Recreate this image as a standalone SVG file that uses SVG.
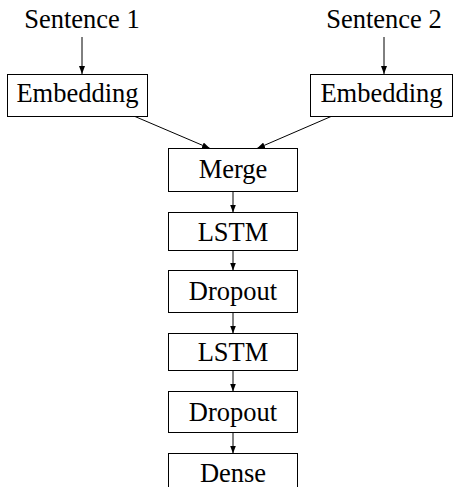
<svg xmlns="http://www.w3.org/2000/svg" width="455" height="487" viewBox="0 0 455 487">
  <style>
    .box { fill: #ffffff; stroke: #000000; stroke-width: 1; }
    .lbl { font-size: 26.5px; fill: #000000; text-anchor: middle; }
    .edge { stroke: #000000; stroke-width: 1; fill: none; marker-end: url(#tip); }
  </style>
  <defs>
    <marker id="tip" viewBox="0 0 8 6" refX="8" refY="3" markerWidth="8" markerHeight="6" markerUnits="userSpaceOnUse" orient="auto">
      <path d="M0,0 L8,3 L0,6 Z" fill="#000000"/>
    </marker>
  </defs>

  <rect width="455" height="487" fill="#ffffff"/>

  <g font-family="'Liberation Serif', 'Times New Roman', 'DejaVu Serif', serif">
    <!-- inputs -->
    <g id="sentence1"><text class="lbl" x="82" y="28">Sentence 1</text></g>
    <g id="sentence2"><text class="lbl" x="384" y="28">Sentence 2</text></g>

    <!-- embedding layers -->
    <g id="embedding1">
      <rect class="box" x="7.5" y="74.5" width="140" height="42"/>
      <text class="lbl" x="77.5" y="102">Embedding</text>
    </g>
    <g id="embedding2">
      <rect class="box" x="310.5" y="74.5" width="142" height="42"/>
      <text class="lbl" x="381.5" y="102">Embedding</text>
    </g>

    <!-- stacked network -->
    <g id="merge">
      <rect class="box" x="168.5" y="148.5" width="129" height="43"/>
      <text class="lbl" x="233" y="178">Merge</text>
    </g>
    <g id="lstm1">
      <rect class="box" x="168.5" y="212.5" width="129" height="38"/>
      <text class="lbl" x="233" y="241">LSTM</text>
    </g>
    <g id="dropout1">
      <rect class="box" x="168.5" y="270.5" width="129" height="42"/>
      <text class="lbl" x="233" y="300">Dropout</text>
    </g>
    <g id="lstm2">
      <rect class="box" x="168.5" y="333.5" width="129" height="37"/>
      <text class="lbl" x="233" y="361">LSTM</text>
    </g>
    <g id="dropout2">
      <rect class="box" x="168.5" y="391.5" width="129" height="41"/>
      <text class="lbl" x="233" y="421">Dropout</text>
    </g>
    <g id="dense">
      <rect class="box" x="168.5" y="453.5" width="129" height="40"/>
      <text class="lbl" x="233" y="482">Dense</text>
    </g>
  </g>

  <!-- connectors -->
  <g id="edges">
    <line class="edge" x1="82" y1="37" x2="82" y2="74"/>
    <line class="edge" x1="384" y1="37" x2="384" y2="74"/>
    <line class="edge" x1="135" y1="116.5" x2="210" y2="148.5"/>
    <line class="edge" x1="331" y1="116.5" x2="257" y2="148.5"/>
    <line class="edge" x1="233" y1="191.5" x2="233" y2="212.5"/>
    <line class="edge" x1="233" y1="250.5" x2="233" y2="270.5"/>
    <line class="edge" x1="233" y1="312.5" x2="233" y2="333.5"/>
    <line class="edge" x1="233" y1="370.5" x2="233" y2="391.5"/>
    <line class="edge" x1="233" y1="432.5" x2="233" y2="453.5"/>
  </g>
</svg>
